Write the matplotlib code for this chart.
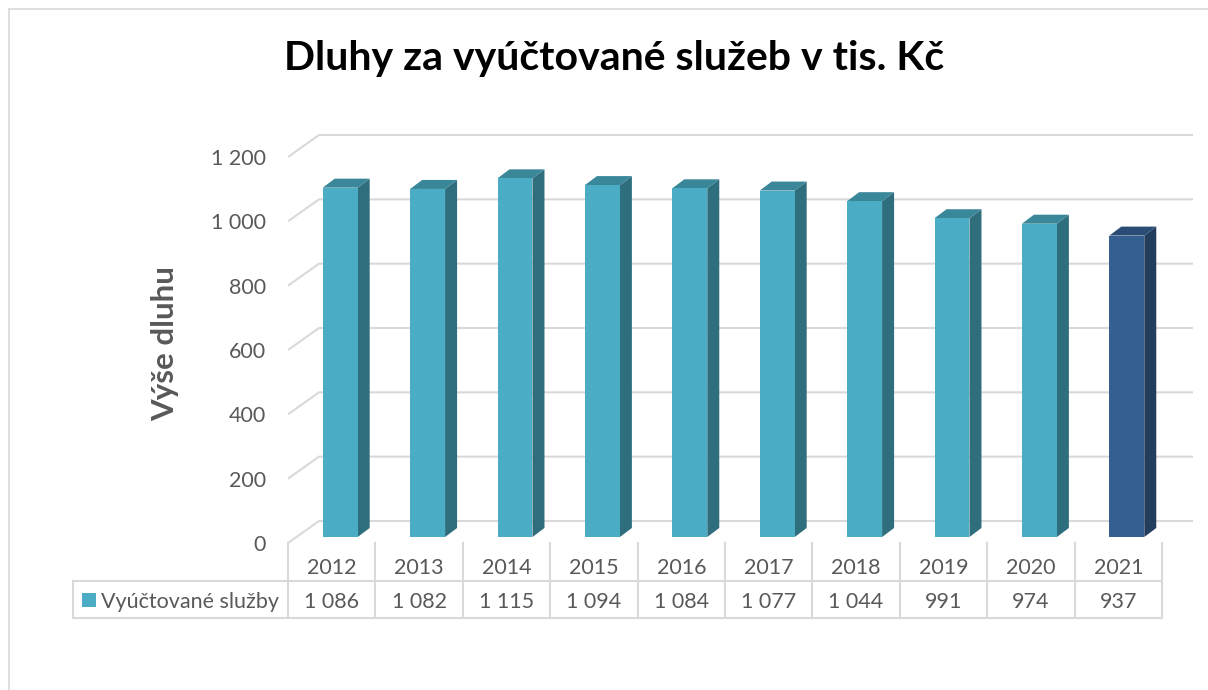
import matplotlib
matplotlib.use("Agg")
import matplotlib.pyplot as plt
from matplotlib.patches import Polygon, Rectangle
from matplotlib.lines import Line2D
import matplotlib.transforms as mtransforms

# ── data ─────────────────────────────────────────────────────────
years = ["2012", "2013", "2014", "2015", "2016", "2017", "2018", "2019", "2020", "2021"]
values = [1086, 1082, 1115, 1094, 1084, 1077, 1044, 991, 974, 937]
y_ticks = [0, 200, 400, 600, 800, 1000, 1200]
series_name = "Vyúčtované služby"
title = "Dluhy za vyúčtované služeb v tis. Kč"
y_label = "Výše dluhu"

# ── style ────────────────────────────────────────────────────────
FONT = ["Lato", "DejaVu Sans"]
GREY_TXT = "#595959"
GRID = "#d9d9d9"
FACE = ("#4BACC6", "#2F6E7D", "#3A8799")      # front, side, top
FACE_LAST = ("#355F91", "#233D5C", "#2B4D75")
TXT_SIZE = 15.5

W, H = 1208, 690
PX_CAT = 87.4          # pixels per category
PX_VAL = 386 / 1200    # pixels per value unit

# pseudo 3D depth (in data units)
FLOOR_DX, FLOOR_DY = 31 / PX_CAT, 22 / PX_VAL
BAR_OX, BAR_OY = 8.5 / PX_CAT, 6 / PX_VAL
BAR_DX, BAR_DY = 12 / PX_CAT, 9 / PX_VAL
BAR_W = 0.40

plt.rcParams["font.family"] = FONT

fig = plt.figure(figsize=(W / 100, H / 100), dpi=100)


def fy(py):
    return 1 - py / H


def fx(px):
    return px / W


# axes: front plane 288..1162 px, zero line at 543 px
left, right, bottom, top = 288, 1195, 543, 130
ax = fig.add_axes([fx(left), fy(bottom), (right - left) / W, (bottom - top) / H])
ax.set_xlim(-0.5, -0.5 + (right - left) / PX_CAT)
ax.set_ylim(0, (bottom - top) / PX_VAL)
ax.axis("off")

n = len(years)
x_back = n - 0.5 + FLOOR_DX

# gridlines (floor diagonal + back wall)
for t in y_ticks:
    ax.plot([-0.5, -0.5 + FLOOR_DX, x_back], [t, t + FLOOR_DY, t + FLOOR_DY],
            color=GRID, lw=1.5, clip_on=False, zorder=1, solid_capstyle="butt")
    ax.text(-0.5 - 22 / PX_CAT, t - 2 / PX_VAL, f"{t:,}".replace(",", " "),
            ha="right", va="center", fontsize=TXT_SIZE, color=GREY_TXT)

# bars
for i, v in enumerate(values):
    front, side, topc = FACE_LAST if i == n - 1 else FACE
    x0 = i - BAR_W / 2 + BAR_OX
    x1 = i + BAR_W / 2 + BAR_OX
    y0 = BAR_OY
    y1 = v + BAR_OY
    ax.add_patch(Polygon([(x1, y0), (x1 + BAR_DX, y0 + BAR_DY), (x1 + BAR_DX, y1 + BAR_DY), (x1, y1)],
                         closed=True, facecolor=side, edgecolor="none", zorder=3, clip_on=False))
    ax.add_patch(Polygon([(x0, y1), (x0 + BAR_DX, y1 + BAR_DY), (x1 + BAR_DX, y1 + BAR_DY), (x1, y1)],
                         closed=True, facecolor=topc, edgecolor="none", zorder=3, clip_on=False))
    ax.add_patch(Rectangle((x0, y0), BAR_W, v, facecolor=front, edgecolor="none",
                           zorder=4, clip_on=False))

# ── data table below the plot ───────────────────────────────────
tr = mtransforms.blended_transform_factory(ax.transData, fig.transFigure)
row_top, row_mid, row_bot = 543, 581, 618
x_lab = -0.5 - (288 - 73) / PX_CAT

for k in range(n + 1):
    xb = k - 0.5
    fig.add_artist(Line2D([xb, xb], [fy(row_top), fy(row_bot)], transform=tr,
                          color=GRID, lw=1.5))
fig.add_artist(Line2D([x_lab, x_lab], [fy(row_mid), fy(row_bot)], transform=tr, color=GRID, lw=1.5))
for yy in (row_mid, row_bot):
    fig.add_artist(Line2D([x_lab, n - 0.5], [fy(yy), fy(yy)], transform=tr, color=GRID, lw=1.5))

for i, (yr, v) in enumerate(zip(years, values)):
    fig.text(i, fy(568), yr, transform=tr, ha="center", va="center",
             fontsize=TXT_SIZE, color=GREY_TXT)
    fig.text(i, fy(602), f"{v:,}".replace(",", " "), transform=tr, ha="center", va="center",
             fontsize=TXT_SIZE, color=GREY_TXT)

# legend key + series name
fig.add_artist(Rectangle((fx(82), fy(607)), 14 / W, 14 / H, transform=fig.transFigure,
                         facecolor=FACE[0], edgecolor="none"))
fig.text(fx(101), fy(602), series_name, ha="left", va="center", fontsize=TXT_SIZE, color=GREY_TXT)

# titles
fig.text(fx(614), fy(70), title, ha="center", va="baseline", fontsize=29.5,
         fontweight="bold", color="black")
fig.text(fx(165), fy(344), y_label, ha="center", va="center", rotation=90,
         fontsize=22.5, fontweight="bold", color=GREY_TXT)

# chart border (top and left visible)
fig.add_artist(Line2D([fx(9), 1.0], [fy(9), fy(9)], color=GRID, lw=1.2))
fig.add_artist(Line2D([fx(9), fx(9)], [fy(9), 0.0], color=GRID, lw=1.2))

fig.savefig("out.png", dpi=100, facecolor="white")
